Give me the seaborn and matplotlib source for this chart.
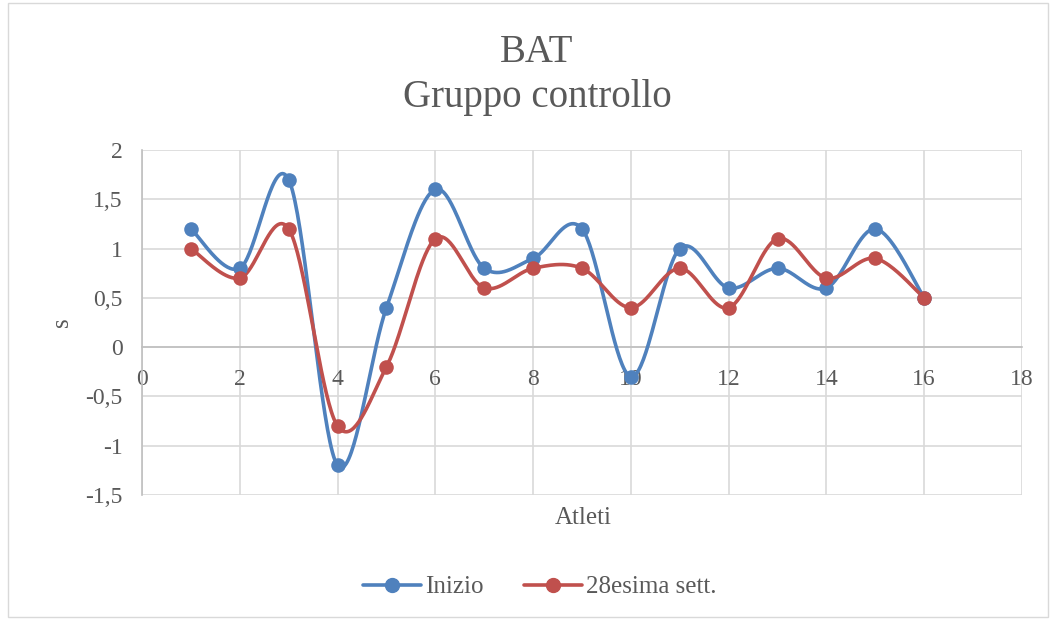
"""
BAT - Gruppo controllo: confronto Inizio vs 28esima settimana (linee smussate stile Excel)
"""

import numpy as np
import pandas as pd
import matplotlib
matplotlib.use("Agg")
import matplotlib.pyplot as plt
from matplotlib.lines import Line2D
from matplotlib.patches import Rectangle
from matplotlib.ticker import FuncFormatter, MultipleLocator
import seaborn as sns

# -------------------------------
# DATA
# -------------------------------
atleti = [1, 2, 3, 4, 5, 6, 7, 8, 9, 10, 11, 12, 13, 14, 15, 16]
inizio = [1.2, 0.8, 1.7, -1.2, 0.4, 1.6, 0.8, 0.9, 1.2, -0.3, 1.0, 0.6, 0.8, 0.6, 1.2, 0.5]
sett28 = [1.0, 0.7, 1.2, -0.8, -0.2, 1.1, 0.6, 0.8, 0.8, 0.4, 0.8, 0.4, 1.1, 0.7, 0.9, 0.5]
serie = ["Inizio", "28esima sett."]
colori = ["#4F81BD", "#C0504D"]

TEXT = "#595959"
GRID = "#D9D9D9"


def smooth(xs, ys, n=40):
    # Bezier tipo Excel (Catmull-Rom con tensione 1/6)
    p = np.column_stack([xs, ys]).astype(float)
    p = np.vstack([p[0], p, p[-1]])
    out = []
    t = np.linspace(0, 1, n)[:, None]
    for i in range(1, len(p) - 2):
        p0, p3 = p[i], p[i + 1]
        c1 = p0 + (p[i + 1] - p[i - 1]) / 6
        c2 = p3 - (p[i + 2] - p[i]) / 6
        seg = ((1 - t) ** 3) * p0 + 3 * ((1 - t) ** 2) * t * c1 + 3 * (1 - t) * t ** 2 * c2 + t ** 3 * p3
        out.append(seg if i == 1 else seg[1:])
    out = np.vstack(out)
    return out[:, 0], out[:, 1]


sns.set_style("white")
plt.rcParams['font.family'] = ['Liberation Serif', 'DejaVu Serif']

fig = plt.figure(figsize=(10.59, 6.2), dpi=100)
ax = fig.add_axes([142 / 1059, 1 - 495 / 620, 880 / 1059, 345 / 620])

# bordo area grafico
fig.patches.append(Rectangle((8 / 1059, 0.005), 1040 / 1059, 0.99, transform=fig.transFigure,
                             fill=False, edgecolor="#D9D9D9", linewidth=1))

for nome, valori, col in zip(serie, [inizio, sett28], colori):
    sx, sy = smooth(atleti, valori)
    curve = pd.DataFrame({"x": sx, "y": sy})
    sns.lineplot(data=curve, x="x", y="y", sort=False, color=col, linewidth=2.6, ax=ax, zorder=3)
    pts = pd.DataFrame({"x": atleti, "y": valori})
    sns.scatterplot(data=pts, x="x", y="y", color=col, s=110, edgecolor=col, linewidth=0, ax=ax, zorder=4)

ax.set_xlim(0, 18)
ax.set_ylim(-1.5, 2)
ax.xaxis.set_major_locator(MultipleLocator(2))
ax.yaxis.set_major_locator(MultipleLocator(0.5))
fmt = FuncFormatter(lambda v, pos: f"{v:g}".replace(".", ","))
ax.xaxis.set_major_formatter(fmt)
ax.yaxis.set_major_formatter(fmt)

ax.grid(True, color=GRID, linewidth=1.2)
ax.set_axisbelow(True)
for s in ["top", "right"]:
    ax.spines[s].set_visible(False)
ax.spines["bottom"].set_position(("data", 0))
ax.spines["bottom"].set_color("#BFBFBF")
ax.spines["left"].set_color("#BFBFBF")
ax.spines["bottom"].set_linewidth(1.2)
ax.spines["left"].set_linewidth(1.2)
ax.tick_params(axis="x", length=0, pad=16, labelsize=17, labelcolor=TEXT)
ax.tick_params(axis="y", length=0, pad=14, labelsize=17, labelcolor=TEXT)

ax.set_xlabel("")
ax.set_ylabel("")
fig.text(583 / 1059, 1 - 518 / 620, "Atleti", ha="center", va="center", fontsize=18, color=TEXT)
fig.text(62 / 1059, 1 - 322 / 620, "s", ha="center", va="center", rotation=90, fontsize=18, color=TEXT)
fig.text(537 / 1059, 1 - 52 / 620, "BAT", ha="center", va="center", fontsize=28, color=TEXT)
fig.text(537 / 1059, 1 - 97 / 620, "Gruppo controllo", ha="center", va="center", fontsize=28, color=TEXT)

handles = [Line2D([0], [0], color=c, linewidth=2.6, marker="o", markersize=10) for c in colori]
leg = fig.legend(handles, serie, loc="center", bbox_to_anchor=(540 / 1059, 1 - 587 / 620), ncol=2,
                 frameon=False, fontsize=18, handlelength=2.3, columnspacing=1.6, handletextpad=0.2)
for t in leg.get_texts():
    t.set_color(TEXT)

fig.savefig("out.png", dpi=100)
